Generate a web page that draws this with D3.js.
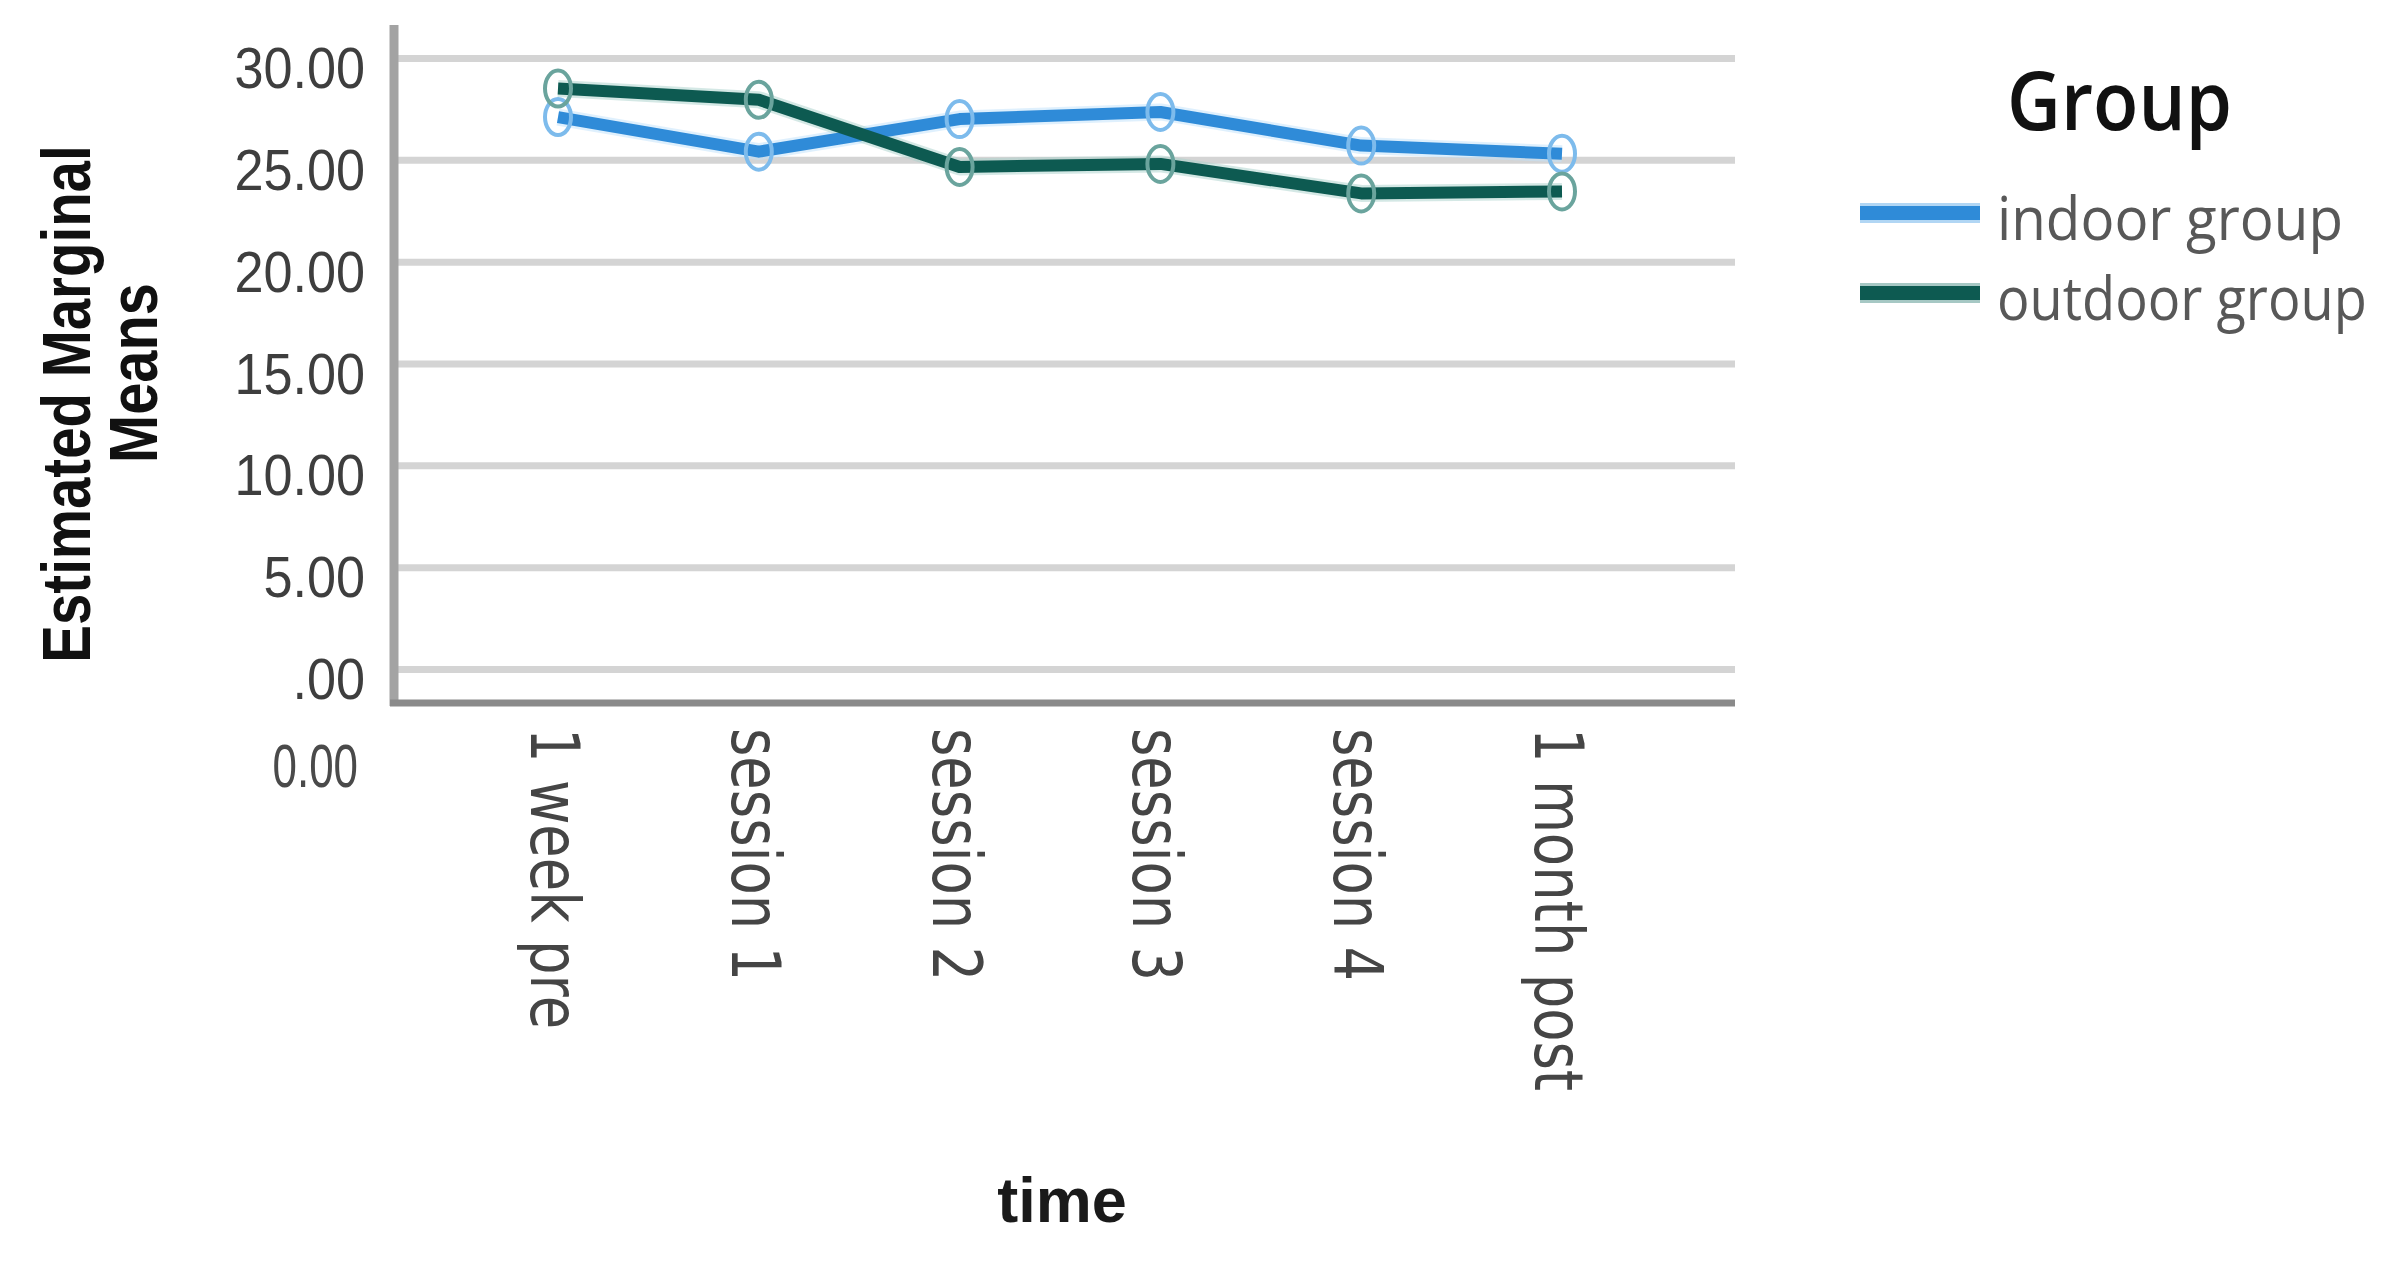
<!DOCTYPE html>
<html>
<head>
<meta charset="utf-8">
<script src="https://cdn.jsdelivr.net/npm/d3@7"></script>
<style>
  html, body { margin: 0; padding: 0; background: #fff; }
  svg { display: block; }
</style>
</head>
<body>
<div id="chart"></div>
<script>
// Data
const timePoints = ["1 week pre", "session 1", "session 2", "session 3", "session 4", "1 month post"];
const indoorMeans = [27.1, 25.4, 27.0, 27.35, 25.7, 25.3];
const outdoorMeans = [28.5, 27.95, 24.65, 24.8, 23.35, 23.45];
const groupNames = ["indoor group", "outdoor group"];
const yTickValues = [0, 5, 10, 15, 20, 25, 30];
const yTickLabels = [".00", "5.00", "10.00", "15.00", "20.00", "25.00", "30.00"];

const width = 2403, height = 1281;
const plot = { left: 394, right: 1735, top: 25, bottom: 703 };

const lineColors = ["#2f8bd8", "#0d5a51"];
const markerColors = ["#7dbbec", "#6aa49d"];
const haloColors = ["#bfe2fb", "#a9d2cc"];

const svg = d3.select("#chart")
  .append("svg")
  .attr("width", width)
  .attr("height", height);

svg.append("rect").attr("width", width).attr("height", height).attr("fill", "#fff");

const x = d3.scalePoint().domain(timePoints).range([558, 1562]);
const y = d3.scaleLinear().domain([0, 30]).range([669, 58]);

// gridlines
const yAxis = d3.axisLeft(y)
  .tickValues(yTickValues)
  .tickSize(-(plot.right - plot.left))
  .tickFormat("");

const gGrid = svg.append("g")
  .attr("transform", `translate(${plot.left},0)`)
  .call(yAxis);
gGrid.select(".domain").remove();
gGrid.selectAll(".tick line")
  .attr("stroke", "#d4d4d4")
  .attr("stroke-width", 7);

// y tick labels
svg.append("g").selectAll("text")
  .data(yTickValues)
  .enter()
  .append("text")
  .attr("transform", d => `translate(365,${y(d) + 30}) scale(0.9,1)`)
  .attr("text-anchor", "end")
  .style("font-family", "'Liberation Sans', Arial, sans-serif")
  .style("font-size", "58px")
  .attr("fill", "#3e3e3e")
  .text((d, i) => yTickLabels[i]);

// stray label under the axis
svg.append("text")
  .attr("transform", "translate(358,787) scale(0.72,1)")
  .attr("text-anchor", "end")
  .style("font-family", "'Liberation Sans', Arial, sans-serif")
  .style("font-size", "61px")
  .attr("fill", "#4a4a4a")
  .text("0.00");

// axis lines
svg.append("line")
  .attr("x1", plot.left).attr("x2", plot.left)
  .attr("y1", plot.top).attr("y2", plot.bottom + 3)
  .attr("stroke", "#a3a3a3")
  .attr("stroke-width", 9);
svg.append("line")
  .attr("x1", plot.left - 4).attr("x2", plot.right)
  .attr("y1", plot.bottom).attr("y2", plot.bottom)
  .attr("stroke", "#8a8a8a")
  .attr("stroke-width", 7);

// x tick labels (rotated)
svg.append("g").selectAll("text")
  .data(timePoints)
  .enter()
  .append("text")
  .attr("transform", d => `translate(${x(d) - 27},728) rotate(90) scale(0.8,1)`)
  .attr("text-anchor", "start")
  .style("font-family", "'DejaVu Sans', Verdana, sans-serif")
  .style("font-size", "68px")
  .attr("fill", "#454545")
  .text(d => d);

// axis titles
const titleFont = "'Liberation Sans', Arial, sans-serif";
svg.append("text")
  .attr("transform", "translate(90,404) rotate(-90) scale(0.83,1)")
  .attr("text-anchor", "middle")
  .style("font-family", titleFont)
  .style("font-weight", "bold")
  .style("font-size", "68px")
  .attr("fill", "#111")
  .text("Estimated Marginal");
svg.append("text")
  .attr("transform", "translate(157,373) rotate(-90) scale(0.85,1)")
  .attr("text-anchor", "middle")
  .style("font-family", titleFont)
  .style("font-weight", "bold")
  .style("font-size", "68px")
  .attr("fill", "#111")
  .text("Means");
svg.append("text")
  .attr("x", 1062)
  .attr("y", 1222)
  .attr("text-anchor", "middle")
  .style("font-family", titleFont)
  .style("font-weight", "bold")
  .style("font-size", "63px")
  .attr("fill", "#1a1a1a")
  .text("time");

// series lines
const series = [indoorMeans, outdoorMeans];
const line = d3.line()
  .x((d, i) => x(timePoints[i]))
  .y(d => y(d));

const gLines = svg.append("g");
gLines.selectAll("path.halo")
  .data(series)
  .enter()
  .append("path")
  .attr("class", "halo")
  .attr("d", d => line(d))
  .attr("fill", "none")
  .attr("stroke", (d, i) => haloColors[i])
  .attr("stroke-opacity", 0.5)
  .attr("stroke-width", 17)
  .attr("stroke-linejoin", "round");
gLines.selectAll("path.main")
  .data(series)
  .enter()
  .append("path")
  .attr("class", "main")
  .attr("d", d => line(d))
  .attr("fill", "none")
  .attr("stroke", (d, i) => lineColors[i])
  .attr("stroke-width", 12)
  .attr("stroke-linejoin", "round");

// markers: open ellipses
series.forEach((vals, s) => {
  svg.append("g").selectAll("ellipse")
    .data(vals)
    .enter()
    .append("ellipse")
    .attr("cx", (d, i) => x(timePoints[i]))
    .attr("cy", d => y(d))
    .attr("rx", 13)
    .attr("ry", 18)
    .attr("fill", "none")
    .attr("stroke", markerColors[s])
    .attr("stroke-width", 4);
});

// legend
const legendFont = "'Open Sans', 'Noto Sans', sans-serif";

// squeeze a text horizontally so that it spans the wanted width
function fitWidth(sel, x0, y0, target) {
  sel.each(function(d, i) {
    const w = typeof target === "function" ? target(d, i) : target;
    const len = this.getComputedTextLength();
    const k = Math.min(1, w / len);
    d3.select(this).attr("transform", `translate(${x0},${y0}) scale(${k},1)`);
  });
}

const groupTitle = svg.append("text")
  .style("font-family", legendFont)
  .style("font-weight", "600")
  .style("font-size", "81px")
  .attr("fill", "#111")
  .text("Group");
fitWidth(groupTitle, 2007, 130, 225);

const legendLengths = [346, 370];
const legend = svg.append("g").selectAll("g")
  .data(groupNames)
  .enter()
  .append("g")
  .attr("transform", (d, i) => `translate(0,${240 + i * 80})`);

legend.append("line")
  .attr("x1", 1860).attr("x2", 1980)
  .attr("y1", -27).attr("y2", -27)
  .attr("stroke", (d, i) => markerColors[i])
  .attr("stroke-opacity", 0.6)
  .attr("stroke-width", 20);
legend.append("line")
  .attr("x1", 1860).attr("x2", 1980)
  .attr("y1", -27).attr("y2", -27)
  .attr("stroke", (d, i) => lineColors[i])
  .attr("stroke-width", 14);
const legendText = legend.append("text")
  .style("font-family", legendFont)
  .style("font-size", "61px")
  .attr("fill", "#585858")
  .text(d => d);
fitWidth(legendText, 1997, 0, (d, i) => legendLengths[i]);
</script>
</body>
</html>
